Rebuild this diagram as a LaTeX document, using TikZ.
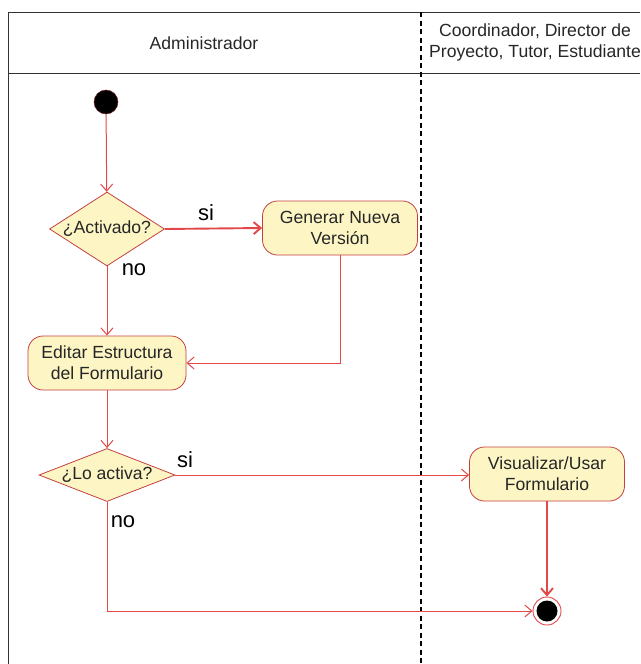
\documentclass[tikz,border=0pt]{standalone}
\usepackage{fontspec}
\setmainfont{Liberation Sans}
\usetikzlibrary{shapes.geometric,arrows.meta}

\definecolor{flowred}{RGB}{226,72,72}
\definecolor{edgered}{RGB}{196,64,64}
\definecolor{actfill}{RGB}{253,246,196}
\definecolor{framegray}{RGB}{50,50,50}

\begin{document}
\begin{tikzpicture}[x=1pt,y=-1pt,
  every node/.style={font=\fontsize{17.6}{21}\selectfont, text=black!85},
  action/.style={rectangle, rounded corners=15pt, draw=edgered, fill=actfill,
    line width=0.8pt, minimum width=155pt, minimum height=54pt, align=center, inner sep=0pt},
  decision/.style={diamond, draw=edgered, fill=actfill, line width=0.8pt, inner sep=0pt},
  flow/.style={draw=flowred, line width=1pt, -{Straight Barb[length=7pt,width=12pt]}},
  boldflow/.style={flow, line width=1.9pt},
  guard/.style={font=\fontsize{22}{24}\selectfont, text=black},
  lane/.style={draw=framegray, line width=0.9pt},
  lanesep/.style={draw=black, line width=1.8pt, dash pattern=on 5pt off 3.5pt}
]
\useasboundingbox (0,0) rectangle (640,664);
\clip (0,0) rectangle (640,664);

% swimlane frame
\draw[lane] (8,664) -- (8,12) -- (640,12);
\draw[lane] (8,73) -- (640,73);
\draw[lanesep] (421,12) -- (421,664);
\node[align=center] (lane1) at (204,43) {Administrador};
\node[align=center] (lane2) at (535,42) {Coordinador, Director de\\Proyecto, Tutor, Estudiante};

% activity nodes
\node[circle, fill=black, draw=edgered!60!black, line width=0.5pt, minimum size=24pt, inner sep=0pt] (start) at (106,102) {};
\node[decision, minimum width=115pt, minimum height=74pt, aspect=1.55] (d1) at (107,229) {\raisebox{-3pt}{¿Activado?}};
\node[action] (gen) at (340,228) {Generar Nueva\\Versión};
\node[action, minimum width=158pt] (edit) at (107,363) {Editar Estructura\\del Formulario};
\node[decision, minimum width=136pt, minimum height=53pt, aspect=2.5] (d2) at (107,475) {\raisebox{-3pt}{¿Lo activa?}};
\node[action] (vis) at (547,474) {Visualizar/Usar\\Formulario};
\node[circle, draw=flowred, fill=white, line width=0.9pt, minimum size=28pt, inner sep=0pt] (end) at (547,611) {};
\node[circle, fill=black, minimum size=21pt, inner sep=0pt] (endcore) at (end) {};

% connectors
\draw[flow] (start) -- (d1);
\draw[boldflow] (d1.east) -- (gen.west);
\draw[flow] (gen.south) |- (edit.east);
\draw[flow] (d1.south) -- (edit.north);
\draw[flow] (edit.south) -- (d2.north);
\draw[flow] (d2.east) -- (vis.west |- d2.east);
\draw[boldflow] (vis.south) -- (end.north);
\draw[flow] (d2.south) |- (end.west);

% guards
\node[guard] (g1) at (206,213) {si};
\node[guard] (g2) at (134,270) {no};
\node[guard] (g3) at (185,460) {si};
\node[guard] (g4) at (123,522) {no};
\end{tikzpicture}
\end{document}
